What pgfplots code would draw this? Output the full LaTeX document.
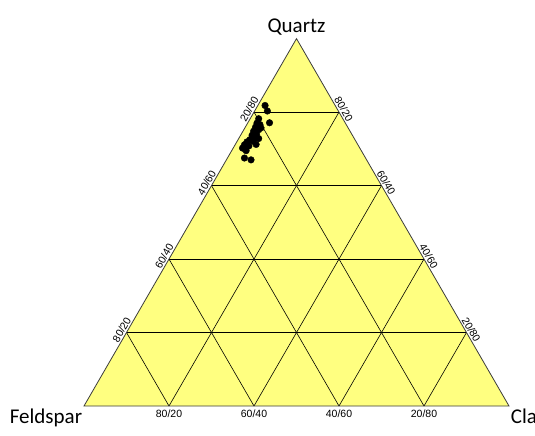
\documentclass[border=0pt]{standalone}
\usepackage{fontspec}
\setmainfont{Carlito}
\newfontfamily\tickfont{Liberation Sans}
\usepackage{pgfplots}
\usepackage{pgfplotstable}
\pgfplotsset{compat=1.18}
\definecolor{triYellow}{RGB}{255,255,128}
\definecolor{edgeGray}{RGB}{60,60,60}

% Quartz / Feldspar / Clay in percent
\pgfplotstableread{
Q    F    C
81.8 16.5 1.7
80.3 16.7 3.0
77.1 17.8 5.1
78.2 19.8 2.0
77.0 20.8 2.2
76.6 20.3 3.1
75.9 21.7 2.4
75.7 20.5 3.8
75.2 21.3 3.5
74.8 22.7 2.5
74.0 22.4 3.6
73.7 23.6 2.7
72.9 23.5 3.6
72.8 22.5 4.7
72.5 24.7 2.8
72.1 24.2 3.7
71.9 25.7 2.4
71.2 23.9 4.9
71.1 26.7 2.2
70.8 25.8 3.4
70.2 27.6 2.2
69.5 27.1 3.4
67.5 28.5 4.0
67.0 27.2 5.8
}\samples

\begin{document}
\begin{tikzpicture}[
    lbl/.style={font=\tickfont\fontsize{10.5}{12}\selectfont, inner sep=1.5pt},
    grid line/.style={black, line width=0.6pt},
]
\begin{axis}[
    width=535pt, height=435pt, scale only axis,
    xmin=-0.19765, xmax=1.06118,
    ymin=-0.06836, ymax=0.95709,
    hide axis, clip=false,
]
% triangle body
\addplot[fill=triYellow, draw=none] coordinates {(0,0) (1,0) (0.5,0.8660254)} -- cycle;

% grid: constant Quartz
\addplot[grid line] coordinates {(0.1,0.17321) (0.9,0.17321)};
\addplot[grid line] coordinates {(0.2,0.34641) (0.8,0.34641)};
\addplot[grid line] coordinates {(0.3,0.51962) (0.7,0.51962)};
\addplot[grid line] coordinates {(0.4,0.69282) (0.6,0.69282)};
% grid: constant Clay
\addplot[grid line] coordinates {(0.2,0) (0.6,0.69282)};
\addplot[grid line] coordinates {(0.4,0) (0.7,0.51962)};
\addplot[grid line] coordinates {(0.6,0) (0.8,0.34641)};
\addplot[grid line] coordinates {(0.8,0) (0.9,0.17321)};
% grid: constant Feldspar
\addplot[grid line] coordinates {(0.8,0) (0.4,0.69282)};
\addplot[grid line] coordinates {(0.6,0) (0.3,0.51962)};
\addplot[grid line] coordinates {(0.4,0) (0.2,0.34641)};
\addplot[grid line] coordinates {(0.2,0) (0.1,0.17321)};

% outline
\addplot[draw=edgeGray, line width=0.8pt] coordinates {(0,0) (1,0) (0.5,0.8660254)} -- cycle;

% samples
\addplot[only marks, mark=*, mark size=3.3pt, black]
    table[x expr={(\thisrow{C}+0.5*\thisrow{Q})/100}, y expr={0.8660254*\thisrow{Q}/100}] {\samples};

% corner labels
\node[anchor=base, inner sep=0pt, font=\fontsize{21}{25}\selectfont] at (axis cs:0.5,0.881) {Quartz};
\node[anchor=base east, inner sep=0pt, font=\fontsize{21}{25}\selectfont] at (axis cs:-0.004,-0.042) {Feldspar};
\node[anchor=base west, inner sep=0pt, font=\fontsize{21}{25}\selectfont] at (axis cs:1.004,-0.042) {Clay};

% bottom side: Feldspar/Clay
\node[lbl, anchor=north, yshift=-2pt] at (axis cs:0.2,0) {80/20};
\node[lbl, anchor=north, yshift=-2pt] at (axis cs:0.4,0) {60/40};
\node[lbl, anchor=north, yshift=-2pt] at (axis cs:0.6,0) {40/60};
\node[lbl, anchor=north, yshift=-2pt] at (axis cs:0.8,0) {20/80};
% left side: Feldspar/Quartz
\node[lbl, anchor=south, rotate=60] at (axis cs:0.1,0.17321) {80/20};
\node[lbl, anchor=south, rotate=60] at (axis cs:0.2,0.34641) {60/40};
\node[lbl, anchor=south, rotate=60] at (axis cs:0.3,0.51962) {40/60};
\node[lbl, anchor=south, rotate=60] at (axis cs:0.4,0.69282) {20/80};
% right side: Quartz/Clay
\node[lbl, anchor=south, rotate=-60] at (axis cs:0.6,0.69282) {80/20};
\node[lbl, anchor=south, rotate=-60] at (axis cs:0.7,0.51962) {60/40};
\node[lbl, anchor=south, rotate=-60] at (axis cs:0.8,0.34641) {40/60};
\node[lbl, anchor=south, rotate=-60] at (axis cs:0.9,0.17321) {20/80};
\end{axis}
\pgfresetboundingbox
\path (current axis.south west) rectangle (current axis.north east);
\end{tikzpicture}
\end{document}
